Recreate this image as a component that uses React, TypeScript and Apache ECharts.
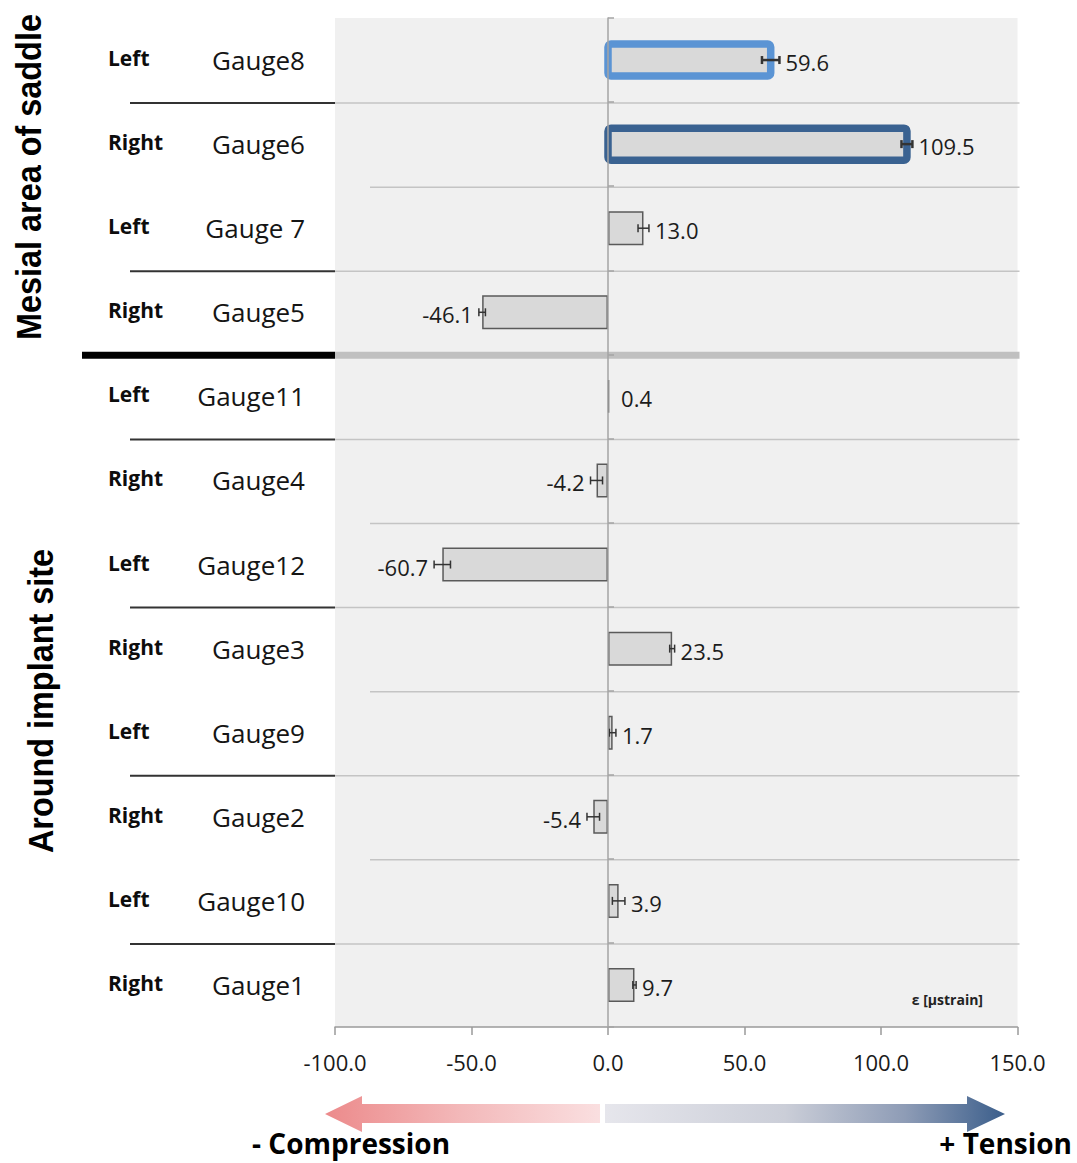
import React, { useEffect, useRef } from "react";
import * as echarts from "echarts";

// Strain gauges, top to bottom
const gauges = ["Gauge8", "Gauge6", "Gauge 7", "Gauge5", "Gauge11", "Gauge4", "Gauge12", "Gauge3", "Gauge9", "Gauge2", "Gauge10", "Gauge1"];
const sides = ["Left", "Right", "Left", "Right", "Left", "Right", "Left", "Right", "Left", "Right", "Left", "Right"];
// Mean strain (µstrain) and its error
const strain = [59.6, 109.5, 13.0, -46.1, 0.4, -4.2, -60.7, 23.5, 1.7, -5.4, 3.9, 9.7];
const strainErr = [3.2, 2.0, 2.0, 1.2, 0, 2.2, 3.0, 0.9, 1.2, 2.3, 2.3, 0.6];
// Region groups (number of gauges in each, in order)
const sectionNames = ["Mesial area of saddle", "Around implant site"];
const sectionRows = [4, 8];
// Strain axis
const xMin = -100;
const xMax = 150;
const xStep = 50;

// Gauges whose bars get a heavy coloured outline
const outline: Record<string, { color: string; width: number }> = {
  Gauge8: { color: "#5b94d4", width: 7.5 },
  Gauge6: { color: "#3a6291", width: 7.5 },
};

const FONT = "'Open Sans', 'Noto Sans', sans-serif";
const BAR_W = 34;

export default function App() {
  const ref = useRef<HTMLDivElement>(null);

  useEffect(() => {
    const chart = echarts.init(ref.current!, null, { renderer: "svg" });

    const sectionEnds: number[] = [];
    let acc = 0;
    sectionRows.forEach((n) => {
      acc += n;
      sectionEnds.push(acc - 1);
    });
    const boundaryRows = gauges.slice(0, -1).map((_, i) => i);

    const option: any = {
      animation: false,
      backgroundColor: "#ffffff",
      grid: {
        left: 335,
        right: 59.5,
        top: 18,
        bottom: 136,
        show: true,
        backgroundColor: "#f0f0f0",
        borderWidth: 0,
      },
      xAxis: {
        type: "value",
        min: xMin,
        max: xMax,
        interval: xStep,
        splitLine: { show: false },
        axisLine: { show: true, lineStyle: { color: "#9a9a9a", width: 1.5 } },
        axisTick: { show: true, length: 8, lineStyle: { color: "#9a9a9a", width: 1.5 } },
        axisLabel: {
          margin: 24,
          fontSize: 22,
          fontFamily: FONT,
          color: "#1a1a1a",
          formatter: (v: number) => v.toFixed(1),
        },
      },
      yAxis: [
        {
          type: "category",
          data: gauges,
          inverse: true,
          axisLine: { show: false, onZero: false },
          axisTick: { show: false },
          splitLine: { show: false },
          axisLabel: {
            margin: 30,
            formatter: (val: string, idx: number) => `{s|${sides[idx]}}{g|${val}}`,
            rich: {
              s: { width: 87, align: "left", fontSize: 21, fontWeight: "bold", fontFamily: FONT, color: "#0d0d0d", padding: [0, 0, 4, 0] },
              g: { width: 110, align: "right", fontSize: 26, fontFamily: FONT, color: "#151515" },
            },
          },
        },
        {
          type: "category",
          data: gauges,
          inverse: true,
          z: 10,
          axisLine: { show: true, onZero: true, lineStyle: { color: "#a4a4a4", width: 1.5 } },
          axisTick: { show: true, length: 6, lineStyle: { color: "#a4a4a4", width: 1.5 } },
          axisLabel: { show: false },
          splitLine: { show: false },
        },
      ],
      series: [
        {
          name: "separators",
          type: "custom",
          yAxisIndex: 0,
          z: 1,
          silent: true,
          clip: false,
          encode: { x: 0, y: 1 },
          data: boundaryRows.map((r) => [xMin, r]),
          renderItem: (params: any, api: any) => {
            const row = boundaryRows[params.dataIndex];
            const c = api.coord([xMin, row]);
            const right = api.coord([xMax, row])[0] + 2;
            const h = api.size([0, 1])[1];
            const y = c[1] + h / 2 + 1;
            const left = c[0];
            const children: any[] = [];
            if (sectionEnds.includes(row)) {
              children.push({ type: "line", shape: { x1: left - 253, y1: y, x2: left, y2: y }, style: { stroke: "#000000", lineWidth: 7 } });
              children.push({ type: "line", shape: { x1: left, y1: y, x2: right, y2: y }, style: { stroke: "#c0c0c0", lineWidth: 7 } });
            } else if (sides[row] === "Left") {
              children.push({ type: "line", shape: { x1: left - 205, y1: y, x2: left, y2: y }, style: { stroke: "#333333", lineWidth: 2 } });
              children.push({ type: "line", shape: { x1: left, y1: y, x2: right, y2: y }, style: { stroke: "#c4c4c4", lineWidth: 1.5 } });
            } else {
              children.push({ type: "line", shape: { x1: left + 35, y1: y, x2: right, y2: y }, style: { stroke: "#c4c4c4", lineWidth: 1.5 } });
            }
            return { type: "group", children };
          },
        },
        {
          name: "strain",
          type: "bar",
          yAxisIndex: 0,
          z: 2,
          barWidth: BAR_W,
          itemStyle: { color: "#d9d9d9", borderColor: "#5a5a5a", borderWidth: 1.5 },
          data: strain,
        },
        {
          name: "error",
          type: "custom",
          yAxisIndex: 0,
          z: 3,
          clip: false,
          encode: { x: 0, y: 1 },
          data: strain.map((v, i) => [v, i, strainErr[i]]),
          renderItem: (params: any, api: any) => {
            const row = params.dataIndex;
            const v = strain[row];
            const e = api.value(2) as number;
            const sgn = v >= 0 ? 1 : -1;
            const p0 = api.coord([v - e, row]);
            const p1 = api.coord([v + e, row]);
            const y = p0[1];
            const children: any[] = [];
            const o = outline[gauges[row]];
            if (o) {
              const a = api.coord([0, row])[0];
              const b = api.coord([v, row])[0];
              children.push({
                type: "rect",
                shape: { x: Math.min(a, b), y: y - BAR_W / 2 + 1, width: Math.abs(b - a), height: BAR_W - 2, r: 3 },
                style: { fill: "none", stroke: o.color, lineWidth: o.width },
              });
            }
            if (e > 0) {
              const st = { stroke: "#333333", lineWidth: o ? 2.5 : 1.5 };
              children.push({ type: "line", shape: { x1: p0[0], y1: y, x2: p1[0], y2: y }, style: st });
              children.push({ type: "line", shape: { x1: p0[0], y1: y - 4, x2: p0[0], y2: y + 4 }, style: st });
              children.push({ type: "line", shape: { x1: p1[0], y1: y - 4, x2: p1[0], y2: y + 4 }, style: st });
            }
            const edge = sgn > 0 ? p1[0] : p0[0];
            children.push({
              type: "text",
              style: {
                text: v.toFixed(1),
                x: edge + sgn * (e > 0 ? 6 : 12),
                y: y + 2,
                align: sgn > 0 ? "left" : "right",
                verticalAlign: "middle",
                fill: "#1c1c1c",
                fontSize: 22,
                fontFamily: FONT,
              },
            });
            return { type: "group", children };
          },
        },
      ],
      graphic: [
        {
          type: "text",
          x: 28,
          y: 177,
          rotation: Math.PI / 2,
          scaleX: 0.9,
          style: { text: sectionNames[0], font: "bold 36px 'Liberation Sans', Arial, sans-serif", fill: "#000000", align: "center", verticalAlign: "middle" },
        },
        {
          type: "text",
          x: 40,
          y: 701,
          rotation: Math.PI / 2,
          scaleX: 0.9,
          style: { text: sectionNames[1], font: "bold 36px 'Liberation Sans', Arial, sans-serif", fill: "#000000", align: "center", verticalAlign: "middle" },
        },
        {
          type: "text",
          x: 983,
          y: 999,
          style: { text: "ε [µstrain]", font: `bold 14px ${FONT}`, fill: "#222222", align: "right", verticalAlign: "middle" },
        },
        {
          type: "polygon",
          shape: {
            points: [
              [325, 1114], [362, 1096], [362, 1104], [600, 1104], [600, 1123], [362, 1123], [362, 1132],
            ],
          },
          style: {
            fill: new echarts.graphic.LinearGradient(0, 0, 1, 0, [
              { offset: 0, color: "#ec8a8b" },
              { offset: 0.5, color: "#f3b9ba" },
              { offset: 1, color: "#fadfe0" },
            ]),
          },
        },
        {
          type: "polygon",
          shape: {
            points: [
              [605, 1104], [967, 1104], [967, 1096], [1005, 1114], [967, 1132], [967, 1123], [605, 1123],
            ],
          },
          style: {
            fill: new echarts.graphic.LinearGradient(0, 0, 1, 0, [
              { offset: 0, color: "#e6e6ec" },
              { offset: 0.45, color: "#cbced8" },
              { offset: 0.75, color: "#8e9cb6" },
              { offset: 1, color: "#3b5e8b" },
            ]),
          },
        },
        {
          type: "text",
          x: 252,
          y: 1143,
          style: { text: "- Compression", font: `bold 28px ${FONT}`, fill: "#000000", align: "left", verticalAlign: "middle" },
        },
        {
          type: "text",
          x: 1072,
          y: 1143,
          style: { text: "+ Tension", font: `bold 28px ${FONT}`, fill: "#000000", align: "right", verticalAlign: "middle" },
        },
      ],
    };

    chart.setOption(option);
    return () => chart.dispose();
  }, []);

  return <div ref={ref} style={{ position: "absolute", left: 0, top: 0, width: 1077, height: 1163 }} />;
}
